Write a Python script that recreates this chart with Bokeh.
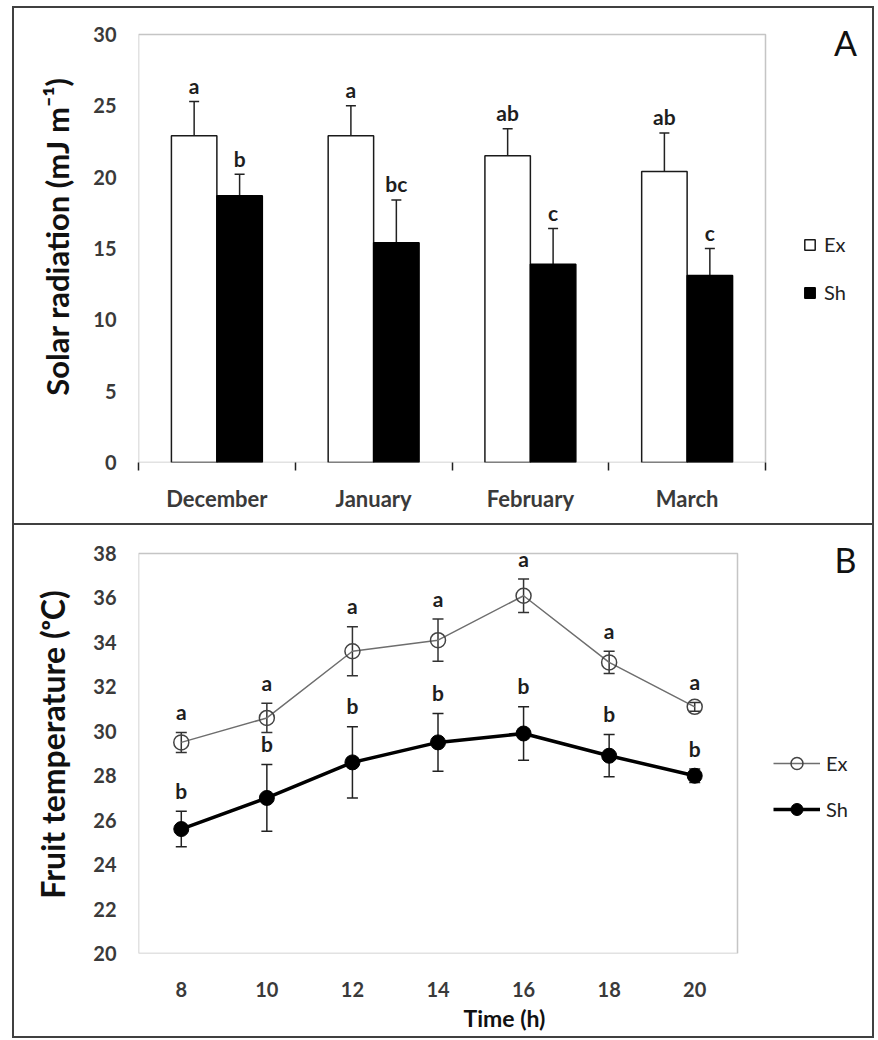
from bokeh.plotting import figure
from bokeh.models import (ColumnDataSource, Whisker, TeeHead, FixedTicker, Legend,
                          LegendItem, Label, BoxAnnotation, Range1d)
from bokeh.layouts import column
from bokeh.embed import file_html
from bokeh.resources import INLINE
from bokeh.core.properties import value

# ---------------- data ----------------
months = ["December", "January", "February", "March"]
rad_ex = [22.9, 22.9, 21.5, 20.4]
rad_ex_err = [2.4, 2.1, 1.9, 2.7]
rad_sh = [18.7, 15.4, 13.9, 13.1]
rad_sh_err = [1.5, 3.0, 2.5, 1.9]
rad_ex_letters = ["a", "a", "ab", "ab"]
rad_sh_letters = ["b", "bc", "c", "c"]
rad_ticks = [0, 5, 10, 15, 20, 25, 30]

hours = [8, 10, 12, 14, 16, 18, 20]
temp_ex = [29.5, 30.6, 33.6, 34.1, 36.1, 33.1, 31.1]
temp_ex_err = [0.45, 0.66, 1.1, 0.95, 0.75, 0.5, 0.2]
temp_sh = [25.6, 27.0, 28.6, 29.5, 29.9, 28.9, 28.0]
temp_sh_err = [0.8, 1.5, 1.6, 1.3, 1.2, 0.95, 0.3]
temp_ex_letters = ["a", "a", "a", "a", "a", "a", "a"]
temp_sh_letters = ["b", "b", "b", "b", "b", "b", "b"]
temp_ticks = [20, 22, 24, 26, 28, 30, 32, 34, 36, 38]
time_lim = (7, 21)

FONT = "Lato"
TICK_COLOR = "#3a3a3a"
FRAME_COLOR = "#404040"
BAR_W = 0.29


def line_bg(segments):
    g = "linear-gradient(%s,%s)" % (FRAME_COLOR, FRAME_COLOR)
    return ", ".join("%s %dpx %dpx / %dpx %dpx no-repeat" % (g, x, y, w, h)
                     for (x, y, w, h) in segments)


# ---------------- panel A ----------------
# plot box: left 138, right 765, top 34, bottom 462 (px); frame extends to right/top
nA = len(months)
ymaxA = rad_ticks[-1]
x_end_A = nA * (870 - 138) / (765 - 138)
y_end_A = ymaxA * (462 - 10) / (462 - 34)

pA = figure(width=878, height=525, x_range=Range1d(0, x_end_A), y_range=Range1d(0, y_end_A),
            output_backend="svg", toolbar_location=None,
            min_border_left=138, min_border_right=8, min_border_top=10, min_border_bottom=63)
pA.grid.visible = False
pA.outline_line_color = None
pA.border_fill_color = None
pA.background_fill_color = "white"
pA.styles = {"background": line_bg([(12, 6, 2, 519), (872, 6, 2, 519),
                                    (12, 6, 862, 2), (12, 523, 862, 2)])}

centers = [i + 0.5 for i in range(nA)]
xa_ex = [c - BAR_W / 2 for c in centers]
xa_sh = [c + BAR_W / 2 for c in centers]

srcA_ex = ColumnDataSource(dict(x=xa_ex, top=rad_ex,
                                upper=[v + e for v, e in zip(rad_ex, rad_ex_err)],
                                lower=[v - e for v, e in zip(rad_ex, rad_ex_err)],
                                lbl=rad_ex_letters))
srcA_sh = ColumnDataSource(dict(x=xa_sh, top=rad_sh,
                                upper=[v + e for v, e in zip(rad_sh, rad_sh_err)],
                                lower=[v - e for v, e in zip(rad_sh, rad_sh_err)],
                                lbl=rad_sh_letters))

r_ex = pA.vbar(x="x", top="top", width=BAR_W, source=srcA_ex, fill_color="white",
               line_color="#1a1a1a", line_width=1.5)
r_sh = pA.vbar(x="x", top="top", width=BAR_W, source=srcA_sh, fill_color="black",
               line_color="black", line_width=1.5)

for src in (srcA_ex, srcA_sh):
    w = Whisker(base="x", upper="upper", lower="lower", source=src,
                line_color="#222222", line_width=1.5,
                upper_head=TeeHead(size=10, line_color="#222222", line_width=1.5),
                lower_head=TeeHead(size=10, line_color="#222222", line_width=1.5))
    pA.add_layout(w)
    pA.text(x="x", y="upper", text="lbl", source=src, text_font=value(FONT),
            text_font_style="bold", text_font_size="21px", text_align="center",
            text_baseline="alphabetic", y_offset=-16, text_color="#1e1e1e")

pA.add_layout(BoxAnnotation(left=0, right=nA, bottom=0, top=ymaxA, fill_alpha=0,
                            line_color=FRAME_COLOR, line_width=1.5))

pA.xaxis.ticker = FixedTicker(ticks=centers, minor_ticks=list(range(nA + 1)))
pA.xaxis.major_label_overrides = {c: m for c, m in zip(centers, months)}
pA.xaxis.major_tick_line_color = None
pA.xaxis.minor_tick_line_color = "#222222"
pA.xaxis.minor_tick_line_width = 1.5
pA.xaxis.minor_tick_out = 8
pA.xaxis.minor_tick_in = 0
pA.xaxis.major_label_standoff = 14
pA.xaxis.axis_line_color = None

pA.yaxis.ticker = FixedTicker(ticks=rad_ticks)
pA.yaxis.major_tick_line_color = None
pA.yaxis.minor_tick_line_color = None
pA.yaxis.major_label_standoff = 16
pA.yaxis.axis_line_color = None
pA.yaxis.axis_label = "Solar radiation (mJ m\u207b\u00b9)"
pA.yaxis.axis_label_standoff = 14

for ax in (pA.xaxis[0], pA.yaxis[0]):
    ax.major_label_text_font = FONT
    ax.major_label_text_font_style = "bold"
    ax.major_label_text_font_size = "20px"
    ax.major_label_text_color = TICK_COLOR
    ax.axis_label_text_font = FONT
    ax.axis_label_text_font_style = "bold"
    ax.axis_label_text_font_size = "31px"
    ax.axis_label_text_color = "#111111"
pA.xaxis.major_label_text_font_size = "22px"

legA = Legend(items=[LegendItem(label="Ex", renderers=[r_ex]),
                     LegendItem(label="Sh", renderers=[r_sh])],
              location=(665, 158), orientation="vertical",
              border_line_color=None, background_fill_alpha=0,
              padding=0, margin=0, spacing=24, glyph_width=13, glyph_height=13,
              label_text_font=FONT, label_text_font_size="20px",
              label_text_color="#222222", label_standoff=8)
pA.add_layout(legA, "center")

pA.add_layout(Label(x=707, y=420, x_units="screen", y_units="screen", text="A",
                    text_font=FONT, text_font_size="34px", text_align="center",
                    text_baseline="middle", text_color="#111111"))

# ---------------- panel B ----------------
# plot box: left 138, right 737, top 553, bottom 953 (page px); figure starts at 525
yminB, ymaxB = temp_ticks[0], temp_ticks[-1]
x_end_B = time_lim[0] + (time_lim[1] - time_lim[0]) * (870 - 138) / (737 - 138)
y_end_B = yminB + (ymaxB - yminB) * (953 - 535) / (953 - 553)

pB = figure(width=878, height=515, x_range=Range1d(time_lim[0], x_end_B),
            y_range=Range1d(yminB, y_end_B),
            output_backend="svg", toolbar_location=None,
            min_border_left=138, min_border_right=8, min_border_top=10, min_border_bottom=87)
pB.grid.visible = False
pB.outline_line_color = None
pB.border_fill_color = None
pB.background_fill_color = "white"
pB.styles = {"background": line_bg([(12, 0, 2, 513), (872, 0, 2, 513),
                                    (12, 511, 862, 2)])}

srcB_ex = ColumnDataSource(dict(x=hours, y=temp_ex,
                                upper=[v + e for v, e in zip(temp_ex, temp_ex_err)],
                                lower=[v - e for v, e in zip(temp_ex, temp_ex_err)],
                                lbl=temp_ex_letters))
srcB_sh = ColumnDataSource(dict(x=hours, y=temp_sh,
                                upper=[v + e for v, e in zip(temp_sh, temp_sh_err)],
                                lower=[v - e for v, e in zip(temp_sh, temp_sh_err)],
                                lbl=temp_sh_letters))

pB.add_layout(BoxAnnotation(left=time_lim[0], right=time_lim[1], bottom=yminB, top=ymaxB,
                            fill_alpha=0, line_color=FRAME_COLOR, line_width=1.5))

l_ex = pB.line(x="x", y="y", source=srcB_ex, line_color="#6e6e6e", line_width=1.5)
wB_ex = Whisker(base="x", upper="upper", lower="lower", source=srcB_ex,
                line_color="#333333", line_width=1.5,
                upper_head=TeeHead(size=11, line_color="#333333", line_width=1.5),
                lower_head=TeeHead(size=11, line_color="#333333", line_width=1.5))
pB.add_layout(wB_ex)
m_ex = pB.scatter(x="x", y="y", source=srcB_ex, marker="circle", size=15,
                  fill_color="white", fill_alpha=0, line_color="#444444", line_width=1.5)

l_sh = pB.line(x="x", y="y", source=srcB_sh, line_color="black", line_width=3.5)
wB_sh = Whisker(base="x", upper="upper", lower="lower", source=srcB_sh,
                line_color="#222222", line_width=1.5,
                upper_head=TeeHead(size=11, line_color="#222222", line_width=1.5),
                lower_head=TeeHead(size=11, line_color="#222222", line_width=1.5))
pB.add_layout(wB_sh)
m_sh = pB.scatter(x="x", y="y", source=srcB_sh, marker="circle", size=15,
                  fill_color="black", line_color="black")

for src in (srcB_ex, srcB_sh):
    pB.text(x="x", y="upper", text="lbl", source=src, text_font=value(FONT),
            text_font_style="bold", text_font_size="21px", text_align="center",
            text_baseline="alphabetic", y_offset=-21, text_color="#1e1e1e")

pB.xaxis.ticker = FixedTicker(ticks=hours)
pB.xaxis.major_tick_line_color = None
pB.xaxis.minor_tick_line_color = None
pB.xaxis.major_label_standoff = 22
pB.xaxis.axis_line_color = None
pB.xaxis.axis_label = "Time (h)"
pB.xaxis.axis_label_standoff = 4

pB.yaxis.ticker = FixedTicker(ticks=temp_ticks)
pB.yaxis.major_tick_line_color = None
pB.yaxis.minor_tick_line_color = None
pB.yaxis.major_label_standoff = 16
pB.yaxis.axis_line_color = None
pB.yaxis.axis_label = "Fruit temperature (\u1d52C)"
pB.yaxis.axis_label_standoff = 18

for ax in (pB.xaxis[0], pB.yaxis[0]):
    ax.major_label_text_font = FONT
    ax.major_label_text_font_style = "bold"
    ax.major_label_text_font_size = "20px"
    ax.major_label_text_color = TICK_COLOR
    ax.axis_label_text_font = FONT
    ax.axis_label_text_font_style = "bold"
    ax.axis_label_text_color = "#111111"
pB.yaxis.axis_label_text_font_size = "32px"
pB.xaxis.axis_label_text_font_size = "23px"

legB = Legend(items=[LegendItem(label="Ex", renderers=[l_ex, m_ex]),
                     LegendItem(label="Sh", renderers=[l_sh, m_sh])],
              location=(635, 129), orientation="vertical",
              border_line_color=None, background_fill_alpha=0,
              padding=0, margin=0, spacing=16, glyph_width=47, glyph_height=30,
              label_text_font=FONT, label_text_font_size="20px",
              label_text_color="#222222", label_standoff=6)
pB.add_layout(legB, "center")

pB.add_layout(Label(x=707, y=394, x_units="screen", y_units="screen", text="B",
                    text_font=FONT, text_font_size="34px", text_align="center",
                    text_baseline="middle", text_color="#111111"))

layout = column(pA, pB, spacing=0)
open("out.html", "w").write(file_html(layout, INLINE))
